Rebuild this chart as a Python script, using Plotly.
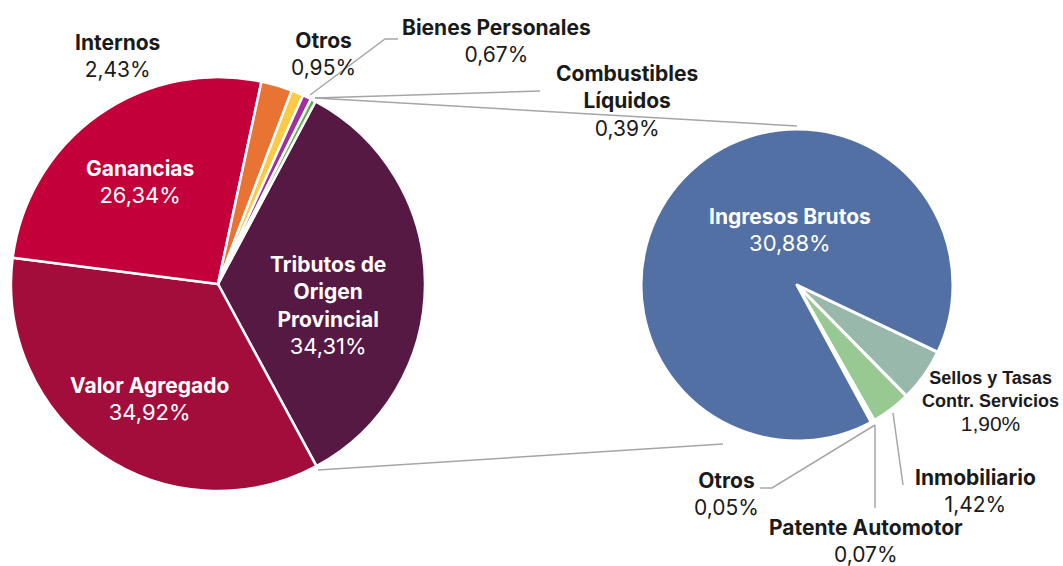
import plotly.graph_objects as go

# ---- data ----
main_labels = ["Tributos de Origen Provincial", "Valor Agregado", "Ganancias", "Internos",
               "Otros", "Bienes Personales", "Combustibles Líquidos"]
main_values = [34.31, 34.92, 26.34, 2.43, 0.95, 0.67, 0.39]
main_colors = ["#561943", "#A20D3B", "#C4003A", "#E87332", "#FBCB46", "#A02FA0", "#5CAF4A"]

sub_labels = ["Sellos y Tasas Contr. Servicios", "Inmobiliario", "Patente Automotor", "Otros", "Ingresos Brutos"]
sub_values = [1.90, 1.42, 0.07, 0.05, 30.88]
sub_colors = ["#97B8AA", "#99C992", "#7F9FC9", "#B0B0B0", "#5270A3"]

W, H = 1063, 566
def px(x): return x / W
def py(y): return 1 - y / H

fig = go.Figure()
fig.add_trace(go.Pie(
    labels=main_labels, values=main_values, sort=False, direction="clockwise",
    rotation=28.1, textinfo="none", showlegend=False,
    marker=dict(colors=main_colors, line=dict(color="white", width=2.5)),
    domain=dict(x=[px(11), px(425)], y=[py(492), py(76)]),
))
fig.add_trace(go.Pie(
    labels=sub_labels, values=sub_values, sort=False, direction="clockwise",
    rotation=115.5, textinfo="none", showlegend=False,
    marker=dict(colors=sub_colors, line=dict(color="white", width=3)),
    domain=dict(x=[px(641), px(953)], y=[py(441), py(129)]),
))

FONT = "Inter, 'Noto Sans', sans-serif"
def lab(x, y, name, pct, color="#1a1a1a", size=21, psize=21, family=FONT):
    fig.add_annotation(x=px(x), y=py(y), xref="paper", yref="paper",
                       text=f"<b>{name}</b><br><span style='font-size:{psize}px'>{pct}</span>",
                       showarrow=False,
                       font=dict(family=family, size=size, color=color),
                       xanchor="center", yanchor="middle", align="center")

# main pie labels
lab(140, 182, "Ganancias", "26,34%", color="white", psize=22)
lab(149, 399, "Valor Agregado", "34,92%", color="white", psize=22)
lab(328, 305, "Tributos de<br>Origen<br>Provincial", "34,31%", color="white", psize=22)
lab(117, 56, "Internos", "2,43%")
lab(323, 54, "Otros", "0,95%")
lab(496, 41, "Bienes Personales", "0,67%")
lab(627, 101, "Combustibles<br>Líquidos", "0,39%")
# sub pie labels
lab(790, 230, "Ingresos Brutos", "30,88%", color="white", psize=22)
lab(990, 401, "Sellos y Tasas<br>Contr. Servicios", "1,90%", size=18, psize=21,
    family="'Liberation Sans', Arial, sans-serif")
lab(975, 491, "Inmobiliario", "1,42%")
lab(866, 541, "Patente Automotor", "0,07%")
lab(726, 494, "Otros", "0,05%")

# connector and leader lines
LINE = dict(color="#A6A6A6", width=1.5)
def poly(pts):
    path = "M " + " L ".join(f"{px(x)},{py(y)}" for x, y in pts)
    fig.add_shape(type="path", path=path, xref="paper", yref="paper", line=LINE)

poly([(315, 98), (797, 126)])
poly([(318, 470), (723, 444)])
poly([(398, 39), (385, 39), (310, 95)])
poly([(540, 91), (315, 98)])
poly([(760, 488), (772, 488), (875, 425)])
poly([(875, 425), (875, 508)])
poly([(893, 413), (903, 485)])

fig.update_layout(
    width=W, height=H, margin=dict(l=0, r=0, t=0, b=0),
    paper_bgcolor="white", plot_bgcolor="white",
)
fig.write_html("out.html", config={"displayModeBar": False},
               post_script="document.body.style.margin='0';document.body.style.overflow='hidden';")
